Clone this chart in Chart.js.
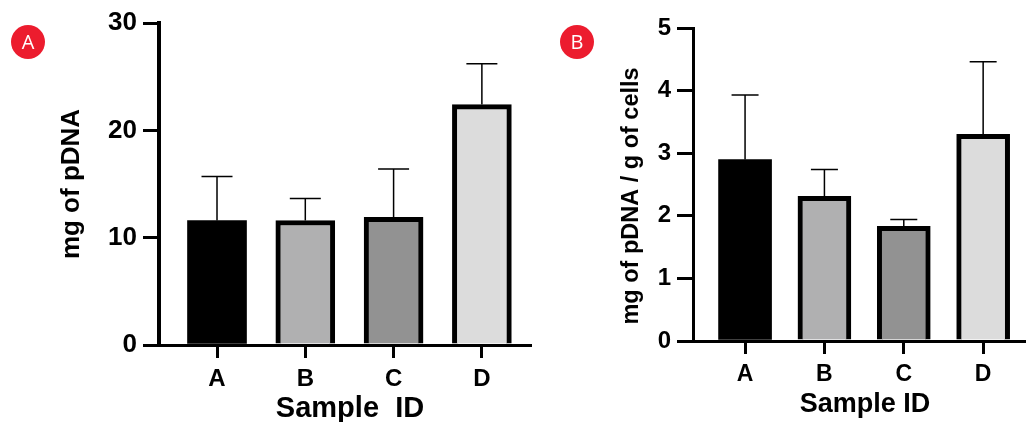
<!DOCTYPE html>
<html>
<head>
<meta charset="utf-8">
<title>pDNA yield</title>
<script src="https://cdn.jsdelivr.net/npm/chart.js@4/dist/chart.umd.min.js"></script>
<style>
  html, body { margin: 0; padding: 0; background: #fff; }
  body { position: relative; width: 1026px; height: 422px; overflow: hidden; }
  .panel { position: absolute; top: 0; height: 422px; }
  .badge {
    position: absolute; top: 25px; width: 34px; height: 34px; border-radius: 50%;
    background: #ec1c2e; color: #fff; font: 500 20px/34px "Open Sans", sans-serif; text-align: center;
  }
</style>
</head>
<body>
<div class="panel" style="left:0;width:540px"><canvas id="chartA" width="540" height="422"></canvas></div>
<div class="panel" style="left:540px;width:486px"><canvas id="chartB" width="486" height="422"></canvas></div>
<div class="badge" style="left:11px">A</div>
<div class="badge" style="left:560px">B</div>

<script>
const categories = ["A", "B", "C", "D"];
const barColors = ["#000000", "#b0b0b1", "#929292", "#dcdcdc"];

const massValues = [11.6, 11.6, 11.9, 22.4];
const massErrorTops = [15.7, 13.65, 16.4, 26.2];

const yieldValues = [2.9, 2.31, 1.83, 3.3];
const yieldErrorTops = [3.93, 2.74, 1.94, 4.46];

const FONT_FAMILY = '"Liberation Sans", Arial, sans-serif';

Chart.defaults.font.family = FONT_FAMILY;
Chart.defaults.font.weight = "bold";
Chart.defaults.color = "#000";
Chart.defaults.animation = false;

function makePanel(id, cfg) {
  // error bars only go upwards from the bar top
  const errorBars = {
    id: "errorBars",
    afterDatasetsDraw(chart) {
      const { x, y } = chart.scales;
      const ctx = chart.ctx;
      ctx.save();
      ctx.strokeStyle = "#000";
      ctx.lineWidth = 1.5;
      cfg.errorTops.forEach((top, i) => {
        const px = x.getPixelForValue(i + 1);
        const yTop = y.getPixelForValue(top);
        ctx.beginPath();
        ctx.moveTo(px, y.getPixelForValue(cfg.values[i]));
        ctx.lineTo(px, yTop);
        ctx.moveTo(px - cfg.capWidth / 2, yTop);
        ctx.lineTo(px + cfg.capWidth / 2, yTop);
        ctx.stroke();
      });
      ctx.restore();
    },
  };

  // axis titles sit off-centre in the original, so the scale titles can't place them
  const axisTitles = {
    id: "axisTitles",
    afterDraw(chart) {
      const ctx = chart.ctx;
      ctx.save();
      ctx.fillStyle = "#000";
      ctx.textAlign = "center";
      ctx.textBaseline = "middle";
      ctx.font = `bold ${cfg.xTitleSize}px ${FONT_FAMILY}`;
      ctx.fillText(cfg.xTitle, cfg.xTitleX, cfg.xTitleY);
      ctx.translate(cfg.yTitleX, cfg.yTitleY);
      ctx.rotate(-Math.PI / 2);
      ctx.font = `bold ${cfg.yTitleSize}px ${FONT_FAMILY}`;
      ctx.fillText(cfg.yTitle, 0, 0);
      ctx.restore();
    },
  };

  return new Chart(document.getElementById(id), {
    type: "bar",
    data: {
      datasets: [{
        data: categories.map((c, i) => ({ x: i + 1, y: cfg.values[i] })),
        backgroundColor: barColors,
        borderColor: "#000",
        // the black bar needs no outline, it only leaves a seam
        borderWidth: (ctx) => (ctx.dataIndex === 0 ? 0 : { top: 5, left: 5, right: 5, bottom: 0 }),
        borderSkipped: false,
        barThickness: cfg.barWidth,
      }],
    },
    plugins: [errorBars, axisTitles],
    options: {
      responsive: false,
      layout: { padding: { left: 0, top: cfg.top, right: cfg.right, bottom: 0 } },
      plugins: { legend: { display: false }, tooltip: { enabled: false } },
      scales: {
        x: {
          type: "linear",
          offset: false,
          min: cfg.xMin,
          max: cfg.xMax,
          afterBuildTicks(scale) {
            scale.ticks = categories.map((c, i) => ({ value: i + 1 }));
          },
          afterFit(scale) { scale.height = cfg.xHeight; },
          border: { color: "#000", width: 3 },
          grid: { offset: false, drawOnChartArea: false, color: "#000", lineWidth: 3, tickLength: 13 },
          ticks: {
            autoSkip: false,
            maxRotation: 0,
            padding: cfg.xTickPad,
            font: { size: cfg.xTickSize },
            callback: (v) => categories[v - 1],
          },
        },
        y: {
          min: 0,
          max: cfg.yMax,
          afterFit(scale) { scale.width = cfg.yWidth; },
          border: { color: "#000", width: cfg.yAxisWidth },
          grid: { drawOnChartArea: false, color: "#000", lineWidth: 3, tickLength: 16 },
          ticks: {
            stepSize: cfg.yStep,
            padding: 6,
            font: { size: cfg.yTickSize },
          },
        },
      },
    },
  });
}

makePanel("chartA", {
  values: massValues,
  errorTops: massErrorTops,
  capWidth: 31,
  barWidth: 59,
  yMax: 30,
  yStep: 10,
  yWidth: 159,
  yAxisWidth: 4,
  top: 23,
  right: 10,
  xHeight: 77,
  xMin: 0.343,
  xMax: 4.545,
  xTickPad: 7,
  xTickSize: 24,
  xTitle: "Sample  ID",
  xTitleSize: 29,
  xTitleX: 350,
  xTitleY: 409,
  yTickSize: 26,
  yTitle: "mg of pDNA",
  yTitleSize: 26,
  yTitleX: 72,
  yTitleY: 184,
});

makePanel("chartB", {
  values: yieldValues,
  errorTops: yieldErrorTops,
  capWidth: 27,
  barWidth: 53,
  yMax: 5,
  yStep: 1,
  yWidth: 153,
  yAxisWidth: 3,
  top: 28,
  right: 0,
  xHeight: 81,
  xMin: 0.344,
  xMax: 4.54,
  xTickPad: 7,
  xTickSize: 23,
  xTitle: "Sample ID",
  xTitleSize: 27,
  xTitleX: 325,
  xTitleY: 405,
  yTickSize: 24,
  yTitle: "mg of pDNA / g of cells",
  yTitleSize: 23.5,
  yTitleX: 92,
  yTitleY: 196,
});
</script>
</body>
</html>
